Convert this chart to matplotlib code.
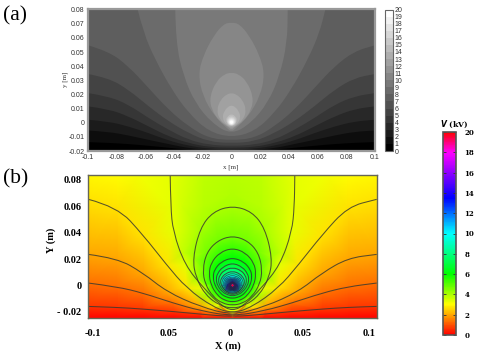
import numpy as np
import matplotlib as mpl
mpl.use("Agg")
import matplotlib.pyplot as plt
import matplotlib.tri as mtri
from matplotlib.cm import ScalarMappable
from matplotlib.colors import BoundaryNorm, LinearSegmentedColormap, ListedColormap, Normalize
from matplotlib.patches import Ellipse, PathPatch
from matplotlib.path import Path

W, H = 480, 352

# contours, left half only (mirrored around x=0)
# (a) open contours, level: points from the frame to the axis
open_a = {
    1: [(-.1, -.0137), (-.0857, -.0142), (-.0718, -.0151), (-.0578, -.0163), (-.0439, -.0177), (-.03, -.0191), (-.016, -.0198), (0, -.02)],
    2: [(-.1, -.0055), (-.0857, -.0064), (-.0718, -.009), (-.0578, -.0121), (-.0439, -.0151), (-.03, -.018), (-.016, -.0192), (0, -.0196)],
    3: [(-.1, .0021), (-.0857, .0009), (-.0718, -.0026), (-.0578, -.0073), (-.0439, -.0126), (-.03, -.0163), (-.016, -.0184), (0, -.019)],
    4: [(-.1, .0116), (-.0857, .0097), (-.0718, .0045), (-.0578, -.0026), (-.0439, -.0097), (-.03, -.0144), (-.016, -.0172), (0, -.0178)],
    5: [(-.1, .021), (-.0857, .0187), (-.0718, .0128), (-.0578, .0033), (-.0439, -.005), (-.03, -.0121), (-.016, -.0156), (0, -.0165)],
    6: [(-.1, .0345), (-.0857, .0317), (-.0718, .0234), (-.0578, .0116), (-.0439, .001), (-.03, -.0073), (-.016, -.0133), (0, -.0145)],
    7: [(-.1, .0548), (-.0857, .0506), (-.0718, .04), (-.0578, .0246), (-.0439, .0092), (-.03, -.0026), (-.016, -.0109), (0, -.0125)],
    8: [(-.0655, .0805), (-.0613, .0636), (-.0532, .0447), (-.0416, .0234), (-.03, .0069), (-.016, -.0062), (0, -.0105)],
    9: [(-.0392, .0805), (-.0388, .0565), (-.0334, .0328), (-.0253, .014), (-.0137, -.0002), (0, -.0085)],
}
# (a) closed ovals, level: points from the top to the bottom on the axis
oval_a = {
    10: [(0, .071), (-.0055, .07), (-.0125, .0615), (-.0195, .048), (-.0232, .0345), (-.02, .0187), (-.0118, .0045), (-.0035, -.0035), (0, -.0065)],
    11: [(0, .0355), (-.0048, .0345), (-.0105, .0295), (-.0152, .0187), (-.014, .0092), (-.0082, .001), (-.0024, -.003), (0, -.005)],
    12: [(0, .021), (-.0032, .0202), (-.0075, .0165), (-.0104, .0092), (-.0083, .0021), (-.0025, -.0026), (0, -.0038)],
    13: [(0, .0122), (-.002, .0116), (-.0048, .0088), (-.0066, .0035), (-.0036, -.0016), (0, -.003)],
    14: [(0, .0062), (-.0025, .0048), (-.0042, .002), (-.0025, -.0012), (0, -.0024)],
}
# (a) innermost rings
ring_a_level = [15, 16, 17, 18, 19]
ring_a_top = [.0045, .0036, .0029, .0022, .0015]
ring_a_side = [.0032, .0026, .0021, .0016, .0011]
ring_a_bottom = [.002, .0017, .0014, .0011, .0007]

# (b) the same, levels are in kV
open_b = {
    0.667: [(-.1, -.0158), (-.08, -.0165), (-.062, -.0178), (-.04, -.0198), (-.0225, -.0216), (0, -.0237)],
    1.333: [(-.1, .0019), (-.08, -.0009), (-.062, -.0057), (-.041, -.0133), (-.0225, -.019), (0, -.0232)],
    2.0: [(-.1, .0236), (-.08, .0208), (-.062, .0095), (-.0456, -.0047), (-.0225, -.016), (0, -.0225)],
    2.667: [(-.1, .0653), (-.08, .0597), (-.062, .0383), (-.0456, .0155), (-.0318, -.002), (-.0133, -.0165), (0, -.021)],
    3.333: [(-.0432, .0835), (-.0429, .06), (-.0412, .0408), (-.033, .0155), (-.02, -.0019), (-.0087, -.0145), (0, -.0194)],
}
oval_b = {
    4.0: [(0, .0605), (-.0135, .056), (-.0225, .0435), (-.0276, .0207), (-.0255, .006), (-.0185, -.0075), (-.009, -.015), (0, -.0175)],
    4.667: [(0, .0378), (-.0105, .034), (-.018, .025), (-.0207, .012), (-.019, .001), (-.0135, -.0085), (-.007, -.0135), (0, -.015)],
    5.333: [(0, .0285), (-.009, .025), (-.015, .017), (-.0163, .009), (-.015, .0005), (-.0105, -.0075), (-.0055, -.0112), (0, -.0125)],
    6.0: [(0, .0212), (-.008, .018), (-.0125, .012), (-.0135, .007), (-.0125, .0005), (-.0085, -.006), (-.0045, -.0087), (0, -.0098)],
    6.667: [(0, .0172), (-.007, .014), (-.0105, .009), (-.0114, .005), (-.0105, 0), (-.007, -.005), (-.0035, -.007), (0, -.0079)],
    7.333: [(0, .0138), (-.006, .0115), (-.009, .0075), (-.0098, .004), (-.009, 0), (-.006, -.0045), (-.003, -.006), (0, -.0069)],
    8.0: [(0, .011), (-.005, .009), (-.0075, .006), (-.0085, .003), (-.0075, -.0005), (-.005, -.004), (-.0025, -.0055), (0, -.0061)],
}
ring_b_level = [8.667, 9.333, 10, 10.667, 11.333, 12, 12.667, 13.333, 14, 14.667, 15.333, 16, 16.667, 17.333, 18, 18.667, 19.333]
ring_b_top = [.0089, .0075, .0064, .0056, .005, .0045, .004, .0036, .0032, .0028, .0025, .0023, .0021, .0019, .0017, .0015, .0012]
ring_b_side = [.0073, .0063, .0055, .0049, .0044, .0039, .0035, .0031, .0028, .0025, .0022, .002, .0018, .0016, .0014, .0012, .001]
ring_b_bottom = [.0054, .0048, .0043, .0039, .0036, .0033, .0031, .0029, .0026, .0024, .0022, .002, .0018, .0016, .0014, .0012, .001]

# (b) colour read at spots between the lines: x, y, kV
edge_b = [(0, .0835, 3.9), (-.02, .0835, 3.75), (-.065, .0835, 3.17), (-.08, .0835, 3.0), (-.1, .0835, 2.9),
          (0, .07, 3.95), (-.02, .06, 3.85), (-.035, .06, 3.55), (-.033, .025, 3.75), (0, 0, 20),
          (-.1, -.0248, 0), (-.08, -.0248, 0), (-.06, -.0248, 0), (-.04, -.0248, 0), (-.02, -.0248, 0), (0, -.0248, 0)]

ticks_ax = [-.1, -.08, -.06, -.04, -.02, 0, .02, .04, .06, .08, .1]
ticks_ay = [-.02, -.01, 0, .01, .02, .03, .04, .05, .06, .07, .08]
labels_ax = ["-0.1", "-0.08", "-0.06", "-0.04", "-0.02", "0", "0.02", "0.04", "0.06", "0.08", "0.1"]
labels_ay = ["-0.02", "-0.01", "0", "0.01", "0.02", "0.03", "0.04", "0.05", "0.06", "0.07", "0.08"]

ticks_bx = [-.0967, -.044, -.0017, .0489, .0947]
labels_bx = ["-0.1", "0.05", "0", "0.05", "0.1"]
ticks_by = [-.02, 0, .02, .04, .06, .08]
labels_by = ["- 0.02", "0", "0.02", "0.04", "0.06", "0.08"]

rainbow_pos = [0, 3, 6, 10, 13.5, 18, 20]
rainbow_col = ["#ff0000", "#ffff00", "#00ff00", "#00ffff", "#0000ff", "#ff00ff", "#ff0000"]


def px_axes(left, top, right, bottom):
    return fig.add_axes([left / W, 1 - bottom / H, (right - left) / W, (bottom - top) / H])


def mirrored(half):
    pts = np.array(half, dtype=float)
    return np.vstack([pts, pts[-2::-1] * [-1, 1]])


def open_path(half, closed_above=False):
    # quadratic pieces through the midpoints keep the line smooth
    pts = mirrored(half)
    verts = [pts[0]]
    for c, m in zip(pts[1:-1], (pts[1:-1] + pts[2:]) / 2):
        verts += [c, m]
    codes = [Path.MOVETO] + [Path.CURVE3] * (len(verts) - 1)
    verts.append(pts[-1])
    codes.append(Path.LINETO)
    if closed_above:
        verts += [(.2, .2), (-.2, .2), pts[0]]
        codes += [Path.LINETO, Path.LINETO, Path.CLOSEPOLY]
    return Path(verts, codes)


def oval_path(half):
    pts = np.array(half, dtype=float)
    loop = np.vstack([pts, pts[-2:0:-1] * [-1, 1]])
    mids = (loop + np.roll(loop, -1, axis=0)) / 2
    verts = [mids[-1]]
    for c, m in zip(loop, mids):
        verts += [c, m]
    return Path(verts, [Path.MOVETO] + [Path.CURVE3] * (len(verts) - 1))


fig = plt.figure(figsize=(W / 100, H / 100), dpi=100)
sans = "Liberation Sans"
serif = "Liberation Serif"

# panel a
grey = ListedColormap([str(k / 19) for k in range(20)])
bounds_a = np.arange(0, 21)
norm_a = BoundaryNorm(bounds_a, 20)

ax = px_axes(88, 9, 375, 151)
ax.set_facecolor(grey(0))
for lev, half in open_a.items():
    ax.add_patch(PathPatch(open_path(half, True), fc=grey(norm_a(lev + .5)), lw=0))
for lev, half in oval_a.items():
    ax.add_patch(PathPatch(oval_path(half), fc=grey(norm_a(lev + .5)), lw=0))
for lev, top, side, bot in zip(ring_a_level, ring_a_top, ring_a_side, ring_a_bottom):
    ax.add_patch(Ellipse((0, (top - bot) / 2), 2 * side, top + bot, fc=grey(norm_a(lev + .5)), lw=0))
ax.set_xlim(-.1, .1)
ax.set_ylim(-.02, .0805)
ax.set_xticks(ticks_ax, labels_ax)
ax.set_yticks(ticks_ay, labels_ay)
ax.tick_params(length=0, labelsize=5, labelcolor="#333333", pad=2.5)
plt.setp(ax.get_xticklabels() + ax.get_yticklabels(), family=sans)
for s in ax.spines.values():
    s.set_color("#999999")
    s.set_linewidth(1.6)
fig.text(231 / W, 1 - 167 / H, "x [m]", fontsize=5, family=serif, color="#333333", ha="center", va="center")
fig.text(65 / W, 1 - 79 / H, "y [m]", fontsize=5, family=serif, color="#333333", ha="center", va="center", rotation=90)

cax = px_axes(384.5, 9.5, 392.5, 151)
cb = fig.colorbar(ScalarMappable(norm=norm_a, cmap=grey), cax=cax, ticks=bounds_a, spacing="proportional")
cb.ax.tick_params(length=0, labelsize=5, labelcolor="#333333", pad=1.5)
plt.setp(cb.ax.get_yticklabels(), family=sans)
cb.outline.set_edgecolor("#666666")
cb.outline.set_linewidth(.8)

# panel b
rainbow = LinearSegmentedColormap.from_list("rb", [(p / 20, c) for p, c in zip(rainbow_pos, rainbow_col)])
norm = Normalize(0, 20)

bx = px_axes(88.3, 175.3, 376.7, 318.3)

# colour field is shaded between everything that was read
pts = []
for lev, half in list(open_b.items()) + list(oval_b.items()):
    for x, y in half:
        pts += [(x, y, lev), (-x, y, lev)]
for lev, top, side, bot in zip(ring_b_level, ring_b_top, ring_b_side, ring_b_bottom):
    mid = (top - bot) / 2
    pts += [(0, top, lev), (0, -bot, lev), (side, mid, lev), (-side, mid, lev)]
for x, y, v in edge_b:
    pts += [(x, y, v), (-x, y, v)]
pts = np.array(pts)
pts = pts[np.unique(pts[:, :2], axis=0, return_index=True)[1]]
bx.tripcolor(mtri.Triangulation(pts[:, 0], pts[:, 1]), pts[:, 2], cmap=rainbow, norm=norm, shading="gouraud")

line_style = dict(fc="none", ec="#3a3a30", lw=.75, alpha=.85)
ring_style = dict(fc="none", ec="#202840", lw=.5, alpha=.8)
for lev, half in open_b.items():
    bx.add_patch(PathPatch(open_path(half), **line_style))
for lev, half in oval_b.items():
    bx.add_patch(PathPatch(oval_path(half), **line_style))
for lev, top, side, bot in zip(ring_b_level, ring_b_top, ring_b_side, ring_b_bottom):
    bx.add_patch(Ellipse((0, (top - bot) / 2), 2 * side, top + bot, **ring_style))

bx.set_xlim(-.1, .1)
bx.set_ylim(-.0248, .0835)
bx.set_xticks(ticks_bx, labels_bx)
bx.set_yticks(ticks_by, labels_by)
bx.tick_params(length=0, labelsize=7.5, pad=5)
bx.tick_params(axis="x", pad=8)
plt.setp(bx.get_xticklabels() + bx.get_yticklabels(), family=serif, weight="bold")
for s in bx.spines.values():
    s.set_color("#666655")
    s.set_linewidth(1)
fig.text(228 / W, 1 - 346 / H, "X (m)", fontsize=7.5, family=serif, weight="bold", ha="center", va="center")
fig.text(51 / W, 1 - 240 / H, "Y (m)", fontsize=7.5, family=serif, weight="bold", ha="center", va="center", rotation=90)

cbx = px_axes(443, 132, 456, 335)
cb2 = fig.colorbar(ScalarMappable(norm=norm, cmap=rainbow), cax=cbx, ticks=np.arange(0, 21, 2))
cb2.ax.tick_params(direction="in", left=True, right=True, length=2.5, width=.6, color="#333333", labelsize=5, pad=6)
plt.setp(cb2.ax.get_yticklabels(), family="DejaVu Serif", weight="bold")
cb2.outline.set_edgecolor("#555555")
cb2.outline.set_linewidth(1.2)
fig.text(454 / W, 1 - 124 / H, r"$\mathbfit{V}$ (kV)", fontsize=5.5, family="DejaVu Serif", weight="bold", ha="center", va="center")

fig.text(3 / W, 1 - 16 / H, "(a)", fontsize=15.5, family=serif, ha="left", va="center")
fig.text(3 / W, 1 - 179 / H, "(b)", fontsize=15.5, family=serif, ha="left", va="center")

fig.savefig("out.png", dpi=100)
